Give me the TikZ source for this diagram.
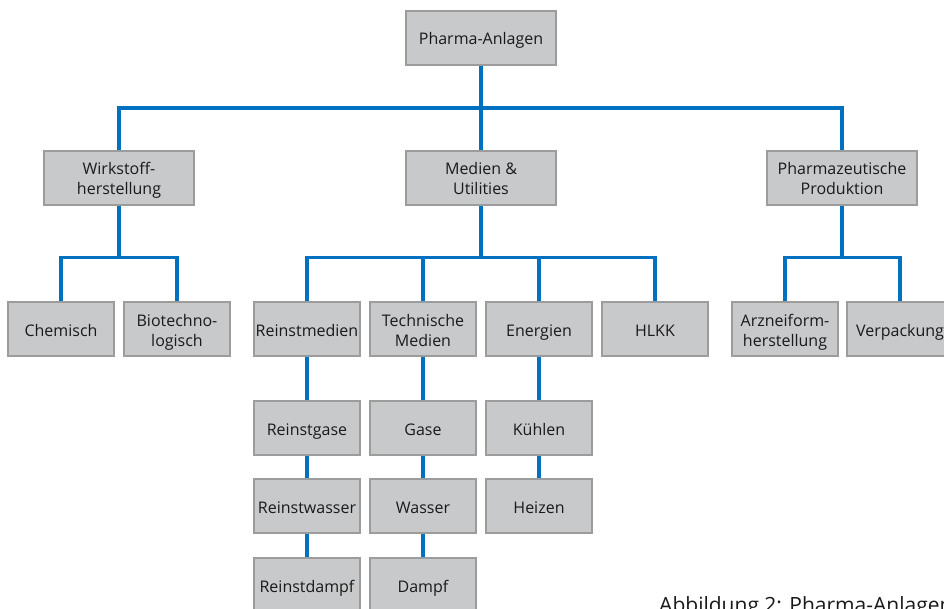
\documentclass[tikz,border=0pt]{standalone}
\usepackage{fontspec}
\setmainfont{Open Sans}
\usetikzlibrary{calc}
\definecolor{boxfill}{HTML}{C8C9CB}
\definecolor{boxline}{HTML}{9C9C9C}
\definecolor{linkblue}{HTML}{0070C0}
\definecolor{txt}{HTML}{1A1A1A}
\begin{document}
\begin{tikzpicture}[x=1pt,y=-1pt,
  box/.style={draw=boxline, line width=1.2pt, fill=boxfill, text=txt, align=center,
    minimum width=106pt, minimum height=54pt, inner sep=0pt,
    font=\fontsize{16}{20}\selectfont, text height=14pt, text depth=0pt},
  boxii/.style={box, text height=34pt, text depth=0pt},
  wbox/.style={box, minimum width=150pt},
  wboxii/.style={boxii, minimum width=150pt},
  conn/.style={draw=linkblue, line width=3.5pt}]
\useasboundingbox (0,0) rectangle (944,609);
\clip (0,0) rectangle (944,609);
\fill[white] (0,0) rectangle (944,609);
% level 1
\node[wbox] (top) at (481,38) {Pharma-Anlagen};
% level 2
\node[wboxii] (wirk) at (119,178) {Wirkstoff-\\herstellung};
\node[wboxii] (med) at (481,178) {Medien \&\\Utilities};
\node[wboxii] (pharm) at (842,178) {Pharmazeutische\\Produktion};
% level 3
\node[box] (chem) at (61,329) {Chemisch};
\node[boxii] (bio) at (177,329) {Biotechno-\\logisch};
\node[box] (rm) at (307,329) {Reinstmedien};
\node[boxii] (tm) at (423,329) {Technische\\Medien};
\node[box] (en) at (539,329) {Energien};
\node[box] (hlkk) at (655,329) {HLKK};
\node[boxii] (arz) at (785,329) {Arzneiform-\\herstellung};
\node[box] (verp) at (900,329) {Verpackung};
% level 4-6
\node[box] (rg) at (307,428) {Reinstgase};
\node[box] (rw) at (307,506) {Reinstwasser};
\node[box] (rd) at (307,585) {Reinstdampf};
\node[box] (ga) at (423,428) {Gase};
\node[box] (wa) at (423,506) {Wasser};
\node[box] (da) at (423,585) {Dampf};
\node[box] (kue) at (539,428) {Kühlen};
\node[box] (hei) at (539,506) {Heizen};
% caption
\node[anchor=base west, inner sep=0pt, text=txt, font=\fontsize{21}{24}\selectfont] (cap) at (659,612) {Abbildung 2: Pharma-Anlagen};
% connectors
\coordinate (b0) at ($(top.south)!0.5!(med.north)$);
\draw[conn] (top.south) -- (med.north);
\draw[conn] (wirk.north) |- (b0) -| (pharm.north);
\coordinate (b1) at ($(wirk.south)+(0,52)$);
\coordinate (b2) at ($(med.south)+(0,52)$);
\coordinate (b3) at ($(pharm.south)+(0,52)$);
\draw[conn] (wirk.south) -- (b1);
\draw[conn] (chem.north) |- (b1) -| (bio.north);
\draw[conn] (med.south) -- (b2);
\draw[conn] (rm.north) |- (b2) -| (hlkk.north);
\draw[conn] (tm.north) -- (tm.north |- b2);
\draw[conn] (en.north) -- (en.north |- b2);
\draw[conn] (pharm.south) -- (b3);
\draw[conn] (arz.north) |- (b3) -| (verp.north);
\draw[conn] (rm.south) -- (rg.north);
\draw[conn] (rg.south) -- (rw.north);
\draw[conn] (rw.south) -- (rd.north);
\draw[conn] (tm.south) -- (ga.north);
\draw[conn] (ga.south) -- (wa.north);
\draw[conn] (wa.south) -- (da.north);
\draw[conn] (en.south) -- (kue.north);
\draw[conn] (kue.south) -- (hei.north);
\end{tikzpicture}
\end{document}
